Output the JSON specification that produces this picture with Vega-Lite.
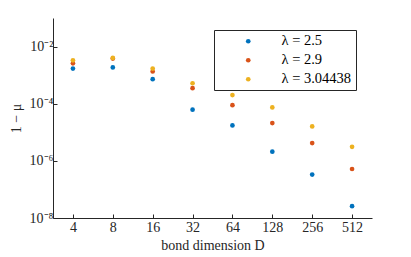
{
  "$schema": "https://vega.github.io/schema/vega-lite/v6.json",
  "width": 319,
  "height": 200,
  "autosize": "none",
  "padding": {"left": 53, "top": 18, "right": 39, "bottom": 39},
  "background": "white",
  "config": {
    "view": {"stroke": null},
    "font": "Liberation Serif"
  },
  "data": {
    "values": [
      {"D": 4, "s": "λ = 2.5", "v": 1.7e-3},
      {"D": 8, "s": "λ = 2.5", "v": 1.86e-3},
      {"D": 16, "s": "λ = 2.5", "v": 7.2e-4},
      {"D": 32, "s": "λ = 2.5", "v": 6.2e-5},
      {"D": 64, "s": "λ = 2.5", "v": 1.74e-5},
      {"D": 128, "s": "λ = 2.5", "v": 2.1e-6},
      {"D": 256, "s": "λ = 2.5", "v": 3.3e-7},
      {"D": 512, "s": "λ = 2.5", "v": 2.6e-8},
      {"D": 4, "s": "λ = 2.9", "v": 2.6e-3},
      {"D": 8, "s": "λ = 2.9", "v": 3.8e-3},
      {"D": 16, "s": "λ = 2.9", "v": 1.35e-3},
      {"D": 32, "s": "λ = 2.9", "v": 3.5e-4},
      {"D": 64, "s": "λ = 2.9", "v": 8.9e-5},
      {"D": 128, "s": "λ = 2.9", "v": 2.1e-5},
      {"D": 256, "s": "λ = 2.9", "v": 4.2e-6},
      {"D": 512, "s": "λ = 2.9", "v": 5.2e-7},
      {"D": 4, "s": "λ = 3.04438", "v": 3.3e-3},
      {"D": 8, "s": "λ = 3.04438", "v": 4.0e-3},
      {"D": 16, "s": "λ = 3.04438", "v": 1.7e-3},
      {"D": 32, "s": "λ = 3.04438", "v": 5.2e-4},
      {"D": 64, "s": "λ = 3.04438", "v": 2.0e-4},
      {"D": 128, "s": "λ = 3.04438", "v": 7.4e-5},
      {"D": 256, "s": "λ = 3.04438", "v": 1.6e-5},
      {"D": 512, "s": "λ = 3.04438", "v": 3.1e-6}
    ]
  },
  "mark": {"type": "point", "filled": true, "size": 22, "opacity": 1},
  "encoding": {
    "x": {
      "field": "D",
      "type": "quantitative",
      "scale": {"type": "log", "base": 2, "domain": [2.8284, 724.08], "nice": false},
      "axis": {
        "values": [4, 8, 16, 32, 64, 128, 256, 512],
        "title": "bond dimension D",
        "titleFont": "Liberation Serif",
        "titleFontSize": 14,
        "titleFontWeight": "normal",
        "titleColor": "#262626",
        "titlePadding": 4,
        "labelFont": "Liberation Serif",
        "labelFontSize": 14,
        "labelColor": "#262626",
        "labelPadding": 6,
        "tickSize": -4,
        "tickColor": "#262626",
        "domainColor": "#262626",
        "grid": false
      }
    },
    "y": {
      "field": "v",
      "type": "quantitative",
      "scale": {"type": "log", "domain": [1e-8, 0.1], "nice": false},
      "axis": {
        "values": [1e-8, 1e-6, 1e-4, 1e-2],
        "labelExpr": "datum.value < 1e-7 ? '10⁻⁸' : datum.value < 1e-5 ? '10⁻⁶' : datum.value < 1e-3 ? '10⁻⁴' : '10⁻²'",
        "title": "1 − μ",
        "titleFont": "Liberation Serif",
        "titleFontSize": 14,
        "titleFontWeight": "normal",
        "titleColor": "#262626",
        "titlePadding": 6,
        "labelFont": "Liberation Serif",
        "labelFontSize": 14,
        "labelColor": "#262626",
        "labelPadding": 4,
        "tickSize": -4,
        "tickColor": "#262626",
        "domainColor": "#262626",
        "grid": false
      }
    },
    "color": {
      "field": "s",
      "type": "nominal",
      "scale": {"domain": ["λ = 2.5", "λ = 2.9", "λ = 3.04438"], "range": ["#0072BD", "#D95319", "#EDB120"]},
      "legend": {
        "title": null,
        "orient": "none",
        "legendX": 161,
        "legendY": 12,
        "strokeColor": "#262626",
        "fillColor": "white",
        "padding": 4,
        "cornerRadius": 0,
        "symbolType": "circle",
        "symbolSize": 22,
        "symbolOffset": 23,
        "labelOffset": 26,
        "labelFont": "Liberation Serif",
        "labelFontSize": 14.5,
        "labelColor": "black",
        "rowPadding": 4
      }
    }
  }
}
